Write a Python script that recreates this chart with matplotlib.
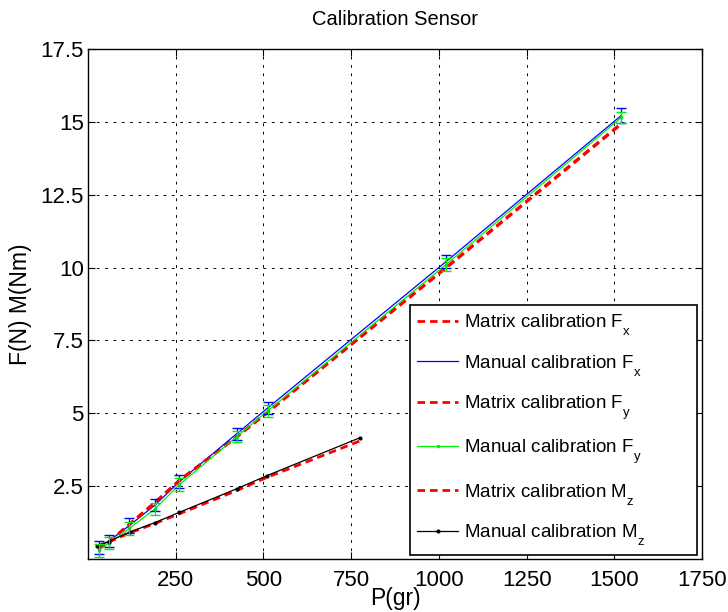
import matplotlib as mpl
mpl.use("Agg")
import matplotlib.pyplot as plt
import matplotlib._mathtext as mathtext_impl

mpl.rcParams["font.family"] = ["Liberation Sans", "DejaVu Sans"]
mpl.rcParams["mathtext.fontset"] = "custom"
mpl.rcParams["mathtext.rm"] = "Liberation Sans"
mpl.rcParams["xtick.direction"] = "in"
mpl.rcParams["ytick.direction"] = "in"
mpl.rcParams["xtick.top"] = True
mpl.rcParams["ytick.right"] = True
mpl.rcParams["lines.scale_dashes"] = False
# drop subscripts further below the baseline
mathtext_impl.FontConstantsBase.sub1 = 0.8

# load points (gr) and readings
p_f = [30, 60, 118, 191, 260, 424, 512, 1020, 1520]
fx_manual = [0.40, 0.62, 1.15, 1.85, 2.65, 4.30, 5.18, 10.20, 15.22]
fy_manual = [0.30, 0.55, 1.05, 1.72, 2.55, 4.20, 5.08, 10.10, 15.15]
fx_matrix = [0.35, 0.60, 1.20, 1.95, 2.70, 4.20, 5.05, 10.00, 14.95]
fy_matrix = [0.33, 0.58, 1.18, 1.92, 2.68, 4.18, 5.03, 9.98, 14.92]
fx_err = [0.22, 0.22, 0.25, 0.20, 0.22, 0.20, 0.20, 0.22, 0.25]
fy_err = [0.22, 0.22, 0.22, 0.20, 0.22, 0.20, 0.20, 0.22, 0.20]

p_m = [25, 59, 120, 191, 260, 424, 510, 775]
mz_manual = [0.46, 0.60, 0.93, 1.25, 1.60, 2.41, 2.86, 4.16]
mz_matrix = [0.45, 0.58, 0.90, 1.22, 1.55, 2.35, 2.80, 4.05]

xticks = [250, 500, 750, 1000, 1250, 1500, 1750]
yticks = [2.5, 5, 7.5, 10, 12.5, 15, 17.5]

fig = plt.figure(figsize=(7.28, 6.12), dpi=100)
ax = fig.add_axes([88 / 728, 53 / 612, 614 / 728, 510 / 612])

dash = dict(color="red", linestyle="--", dashes=(5.5, 3.5), linewidth=2.0)
green = "#00ee00"

ax.plot(p_f, fx_matrix, label=r"Matrix calibration F$\mathregular{_x}$", **dash)
ax.plot(p_f, fx_manual, color="blue", linewidth=0.9,
        label=r"Manual calibration F$\mathregular{_x}$")
ax.plot(p_f, fy_matrix, label=r"Matrix calibration F$\mathregular{_y}$", **dash)
ax.plot(p_f, fy_manual, color=green, linewidth=0.9, marker=".", markersize=3,
        label=r"Manual calibration F$\mathregular{_y}$")
ax.plot(p_m, mz_matrix, label=r"Matrix calibration M$\mathregular{_z}$", **dash)
ax.plot(p_m, mz_manual, color="black", linewidth=0.9, marker=".", markersize=4,
        label=r"Manual calibration M$\mathregular{_z}$")

# error bars for the manual force readings
ax.errorbar(p_f, fx_manual, yerr=fx_err, fmt="none", ecolor="blue",
            elinewidth=0.9, capsize=3.6)
ax.errorbar(p_f, fy_manual, yerr=fy_err, fmt="none", ecolor=green,
            elinewidth=0.9, capsize=3.6)

ax.set_xlim(0, 1750)
ax.set_ylim(0, 17.5)
ax.set_xticks(xticks)
ax.set_yticks(yticks)
ax.set_xticklabels([str(t) for t in xticks])
ax.set_yticklabels([f"{t:g}" for t in yticks])
ax.tick_params(labelsize=16, length=5, width=0.8)
ax.tick_params(axis="x", pad=8)
ax.tick_params(axis="y", pad=3)
ax.grid(True, color="black", linestyle=(0, (2, 4)), linewidth=0.7)
for s in ax.spines.values():
    s.set_linewidth(1.0)

ax.set_title("Calibration Sensor", fontsize=14.5, pad=17)
ax.set_xlabel("P(gr)", fontsize=16.5, labelpad=-3)
ax.set_ylabel("F(N) M(Nm)", fontsize=16.5, labelpad=6)

leg = ax.legend(loc="lower right", bbox_to_anchor=(0.524, 0.008, 0.468, 0.485),
                mode="expand", borderaxespad=0, fontsize=13.5, fancybox=False,
                framealpha=1, edgecolor="black", handlelength=2.2,
                handletextpad=0.3, labelspacing=0.84, borderpad=0.4)
leg.get_frame().set_linewidth(1.2)

fig.savefig("out.png", dpi=100)
